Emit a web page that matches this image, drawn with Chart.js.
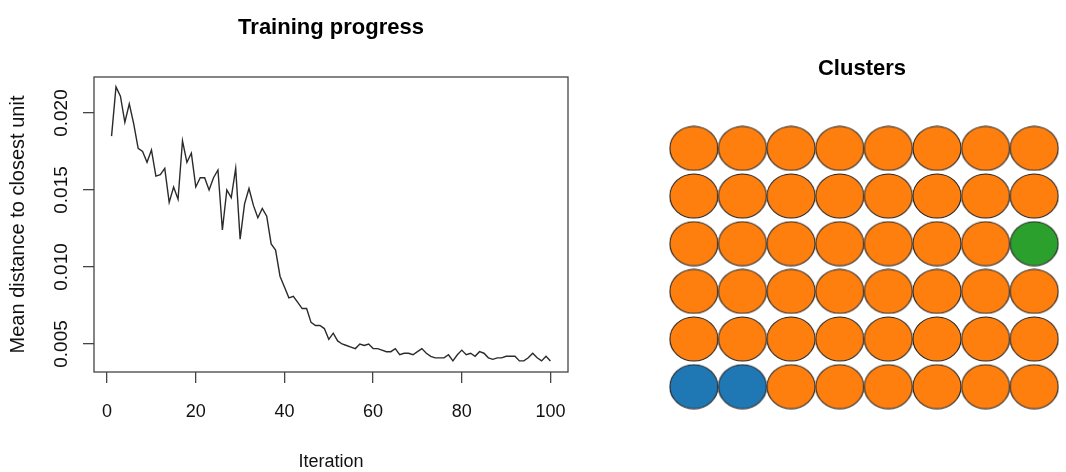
<!DOCTYPE html>
<html>
<head>
<meta charset="utf-8">
<script src="https://cdn.jsdelivr.net/npm/chart.js@4.4.1/dist/chart.umd.min.js"></script>
<style>
  html, body { margin: 0; padding: 0; background: #ffffff; }
  #wrap { position: relative; width: 1066px; height: 472px; overflow: hidden; }
  #c1 { position: absolute; left: 0; top: 0; }
  #c2 { position: absolute; left: 620px; top: 0; }
</style>
</head>
<body>
<div id="wrap">
  <canvas id="c1" width="620" height="472"></canvas>
  <canvas id="c2" width="446" height="472"></canvas>
</div>
<script>
// ---------- data ----------
const distances = [
  0.0185, 0.0217, 0.0211, 0.0194, 0.0206, 0.0193, 0.0177, 0.0175, 0.0168, 0.0176,
  0.0159, 0.0160, 0.0164, 0.0142, 0.0152, 0.0144, 0.0182, 0.0168, 0.0174, 0.0152,
  0.0158, 0.0158, 0.0150, 0.0158, 0.0163, 0.0124, 0.0150, 0.0145, 0.0164, 0.0118,
  0.0141, 0.0151, 0.0140, 0.0132, 0.0138, 0.0133, 0.0115, 0.0111, 0.0094, 0.0087,
  0.0080, 0.0081, 0.0077, 0.0073, 0.0073, 0.0064, 0.0062, 0.0062, 0.0060, 0.0053,
  0.0057, 0.0052, 0.0050, 0.0049, 0.0048, 0.0047, 0.0050, 0.0049, 0.0050, 0.0047,
  0.0047, 0.0046, 0.0045, 0.0045, 0.0047, 0.0043, 0.0044, 0.0044, 0.0043, 0.0045,
  0.0047, 0.0044, 0.0042, 0.0041, 0.0041, 0.0041, 0.0043, 0.0039, 0.0043, 0.0046,
  0.0043, 0.0044, 0.0042, 0.0045, 0.0044, 0.0041, 0.0040, 0.0041, 0.0041, 0.0042,
  0.0042, 0.0042, 0.0039, 0.0039, 0.0041, 0.0044, 0.0041, 0.0039, 0.0042, 0.0039
];
const iterations = distances.map((_, i) => i + 1);
const xTickValues = [0, 20, 40, 60, 80, 100];
const xTickLabels = ['0', '20', '40', '60', '80', '100'];
const yTickValues = [0.005, 0.010, 0.015, 0.020];
const yTickLabels = ['0.005', '0.010', '0.015', '0.020'];

// SOM grid 8 x 6, units numbered from bottom-left, row by row
const gridCols = 8;
const gridRows = 6;
const unitCluster = [
  0, 0, 1, 1, 1, 1, 1, 1,
  1, 1, 1, 1, 1, 1, 1, 1,
  1, 1, 1, 1, 1, 1, 1, 1,
  1, 1, 1, 1, 1, 1, 1, 2,
  1, 1, 1, 1, 1, 1, 1, 1,
  1, 1, 1, 1, 1, 1, 1, 1
];
const clusterColors = ['#1f77b4', '#ff7f0e', '#2ca02c'];

// ---------- styling ----------
const FONT = "'Liberation Sans', Arial, Helvetica, sans-serif";
Chart.defaults.font.family = FONT;
Chart.defaults.color = '#111';

const boxPlugin = {
  id: 'box',
  afterDraw(chart) {
    const a = chart.chartArea;
    const ctx = chart.ctx;
    ctx.save();
    ctx.strokeStyle = '#444';
    ctx.lineWidth = 1.3;
    ctx.strokeRect(a.left, a.top, a.right - a.left, a.bottom - a.top);
    ctx.restore();
  }
};

// ---------- Training progress ----------
new Chart(document.getElementById('c1'), {
  type: 'line',
  data: {
    datasets: [{
      data: iterations.map((x, i) => ({ x: x, y: distances[i] })),
      borderColor: '#2a2a2a',
      borderWidth: 1.4,
      pointRadius: 0,
      tension: 0,
      fill: false
    }]
  },
  options: {
    responsive: false,
    animation: false,
    events: [],
    layout: { padding: { left: 0, right: 52, top: 0, bottom: 0 } },
    plugins: {
      legend: { display: false },
      tooltip: { enabled: false },
      title: { display: false }
    },
    scales: {
      x: {
        type: 'linear',
        min: -2.96,
        max: 103.96,
        afterBuildTicks: s => { s.ticks = xTickValues.map(v => ({ value: v })); },
        afterFit: s => { s.height = 100; },
        border: { display: false },
        grid: { display: true, drawOnChartArea: false, drawTicks: true, tickLength: 11, color: '#444', lineWidth: 1.3 },
        ticks: {
          padding: 18,
          color: '#111',
          font: { size: 18 },
          maxRotation: 0,
          autoSkip: false,
          callback: (v, i) => xTickLabels[i]
        },
        title: {
          display: true,
          text: 'Iteration',
          color: '#111',
          font: { size: 18 },
          padding: { top: 0, bottom: -1 }
        }
      },
      xTitle: {
        type: 'linear',
        position: 'top',
        min: -2.96,
        max: 103.96,
        afterFit: s => { s.height = 77; },
        border: { display: false },
        grid: { display: false, drawTicks: false },
        ticks: { display: false },
        title: {
          display: true,
          text: 'Training progress',
          color: '#000',
          font: { size: 22, weight: 'bold', family: FONT },
          padding: { top: 15, bottom: 0 }
        }
      },
      y: {
        type: 'linear',
        min: 0.00318,
        max: 0.02234,
        afterBuildTicks: s => { s.ticks = yTickValues.map(v => ({ value: v })); },
        afterFit: s => { s.width = 94; },
        border: { display: false },
        grid: { display: true, drawOnChartArea: false, drawTicks: true, tickLength: 11, color: '#444', lineWidth: 1.3 },
        ticks: {
          minRotation: 90,
          maxRotation: 90,
          crossAlign: 'center',
          padding: -3,
          color: '#111',
          font: { size: 19 },
          autoSkip: false,
          callback: (v, i) => yTickLabels[i]
        },
        title: {
          display: true,
          text: 'Mean distance to closest unit',
          color: '#111',
          font: { size: 20 },
          padding: { top: 6, bottom: 0 }
        }
      }
    }
  },
  plugins: [boxPlugin]
});

// ---------- Clusters ----------
function makeDisc(color) {
  const c = document.createElement('canvas');
  c.width = 50; c.height = 46;
  const g = c.getContext('2d');
  g.beginPath();
  g.ellipse(25, 23, 24, 22, 0, 0, Math.PI * 2);
  g.fillStyle = color;
  g.fill();
  g.lineWidth = 1.1;
  g.strokeStyle = '#222';
  g.stroke();
  return c;
}
const discs = clusterColors.map(makeDisc);

new Chart(document.getElementById('c2'), {
  type: 'scatter',
  data: {
    datasets: [{
      data: unitCluster.map((k, i) => ({ x: (i % gridCols) + 1, y: Math.floor(i / gridCols) + 1 })),
      pointStyle: unitCluster.map(k => discs[k]),
      pointRadius: 24,
      clip: false
    }]
  },
  options: {
    responsive: false,
    animation: false,
    events: [],
    layout: { padding: { left: 54.4, right: 16.4, top: 0, bottom: 61.5 } },
    plugins: {
      legend: { display: false },
      tooltip: { enabled: false },
      title: {
        display: true,
        text: 'Clusters',
        color: '#000',
        font: { size: 22, weight: 'bold', family: FONT },
        padding: { top: 55.7, bottom: 42.4 }
      }
    },
    scales: {
      x: { type: 'linear', display: false, min: 0.6, max: 8.139 },
      y: { type: 'linear', display: false, min: 0.5, max: gridRows + 0.5 }
    }
  }
});
</script>
</body>
</html>
